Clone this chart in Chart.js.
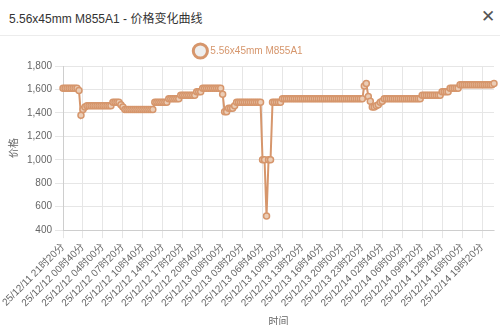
<!DOCTYPE html>
<html>
<head>
<meta charset="utf-8">
<script src="https://cdn.jsdelivr.net/npm/chart.js@4/dist/chart.umd.min.js"></script>
<style>
  html, body { margin: 0; padding: 0; width: 500px; height: 325px; overflow: hidden; background: #fff; }
  body { font-family: "Liberation Sans", Arial, "Noto Sans CJK SC", sans-serif; position: relative; }
  #hdr { position: absolute; left: 0; top: 0; width: 500px; height: 35px; border-bottom: 1px solid #ececec; }
  #title { position: absolute; left: 9px; top: 9px; font-size: 12px; color: #333; }
  #close { position: absolute; left: 481px; top: 6px; font-size: 17px; color: #555; font-weight: 300; }
  #wrap { position: absolute; left: 0; top: 36px; width: 500px; height: 298px; }
</style>
</head>
<body>
<div id="hdr"><span id="title">5.56x45mm M855A1 - 价格变化曲线</span><span id="close">✕</span></div>
<div id="wrap"><canvas id="c"></canvas></div>
<script>
// ---- data ----
const seriesName = '5.56x45mm M855A1';
const startTime = [2025, 12, 11, 21, 20]; // first sample
const stepMinutes = 20;
const prices = [
  1610,1610,1610,1610,1610,1610,1610,1610,1590,1380,
  1430,1450,1460,1460,1460,1460,1460,1460,1460,1460,
  1460,1460,1460,1460,1460,1490,1490,1490,1490,1470,
  1450,1430,1430,1430,1430,1430,1430,1430,1430,1430,
  1430,1430,1430,1430,1430,1430,1490,1490,1490,1490,
  1490,1490,1490,1520,1520,1520,1520,1520,1520,1550,
  1550,1550,1550,1550,1550,1550,1550,1580,1580,1580,
  1610,1610,1610,1610,1610,1610,1610,1610,1610,1610,
  1560,1410,1410,1440,1440,1440,1460,1490,1490,1490,
  1490,1490,1490,1490,1490,1490,1490,1490,1490,1490,
  1000,1000,520,1000,1000,1490,1490,1490,1490,1490,
  1520,1520,1520,1520,1520,1520,1520,1520,1520,1520,
  1520,1520,1520,1520,1520,1520,1520,1520,1520,1520,
  1520,1520,1520,1520,1520,1520,1520,1520,1520,1520,
  1520,1520,1520,1520,1520,1520,1520,1520,1520,1520,
  1520,1630,1650,1540,1500,1450,1450,1460,1470,1490,
  1500,1520,1520,1520,1520,1520,1520,1520,1520,1520,
  1520,1520,1520,1520,1520,1520,1520,1520,1520,1520,
  1550,1550,1550,1550,1550,1550,1550,1550,1550,1550,
  1580,1580,1580,1580,1610,1610,1610,1610,1610,1640,
  1640,1640,1640,1640,1640,1640,1640,1640,1640,1640,
  1640,1640,1640,1640,1640,1640,1650
];
const labelEvery = 10;           // one labelled tick every 10 samples (3h20m)
const yMin = 400, yMax = 1800, yStep = 200;

// category labels: sample times
function pad(n){ return String(n).padStart(2,'0'); }
const t0 = new Date(startTime[0], startTime[1]-1, startTime[2], startTime[3], startTime[4]);
const times = prices.map((_, i) => {
  const d = new Date(t0.getTime() + i*stepMinutes*60000);
  return String(d.getFullYear()).slice(2) + '/' + pad(d.getMonth()+1) + '/' + pad(d.getDate()) + ' ' +
         pad(d.getHours()) + '时' + pad(d.getMinutes()) + '分';
});

const lineColor = '#d6966c';
Chart.defaults.font.family = '"Liberation Sans", Arial, "Noto Sans CJK SC", sans-serif';
Chart.defaults.font.size = 10;
Chart.defaults.color = '#666';

new Chart(document.getElementById('c'), {
  type: 'line',
  data: {
    labels: times,
    datasets: [{
      label: seriesName,
      data: prices,
      borderColor: lineColor,
      backgroundColor: '#eeeeee',
      borderWidth: 2,
      pointRadius: 3,
      pointBorderWidth: 1.5,
      pointBackgroundColor: '#ebcdb6',
      pointBorderColor: lineColor,
      tension: 0,
      fill: false
    }]
  },
  options: {
    responsive: true,
    maintainAspectRatio: false,
    animation: false,
    layout: { padding: { left: 4, right: 6, top: 0, bottom: 2 } },
    plugins: {
      legend: {
        position: 'top',
        labels: {
          usePointStyle: true,
          color: lineColor,
          padding: 10,
          generateLabels(chart) {
            const items = Chart.defaults.plugins.legend.labels.generateLabels(chart);
            items.forEach(it => { it.lineWidth = 3; it.fillStyle = '#eeeeee'; it.strokeStyle = lineColor; it.fontColor = lineColor; });
            return items;
          }
        }
      },
      tooltip: { enabled: false }
    },
    scales: {
      x: {
        title: { display: true, text: '时间', color: '#666', font: { size: 10 } },
        grid: { color: '#e6e6e6' },
        afterBuildTicks(axis) { axis.ticks = axis.ticks.filter(t => t.value % labelEvery === 0); },
        ticks: {
          autoSkip: false,
          minRotation: 45,
          maxRotation: 45,
          color: '#666',
          callback(v) { return times[v]; }
        }
      },
      y: {
        min: yMin, max: yMax,
        title: { display: true, text: '价格', color: '#666', font: { size: 10 } },
        grid: { color: '#e6e6e6' },
        ticks: { stepSize: yStep, color: '#666' }
      }
    }
  }
});
</script>
</body>
</html>
